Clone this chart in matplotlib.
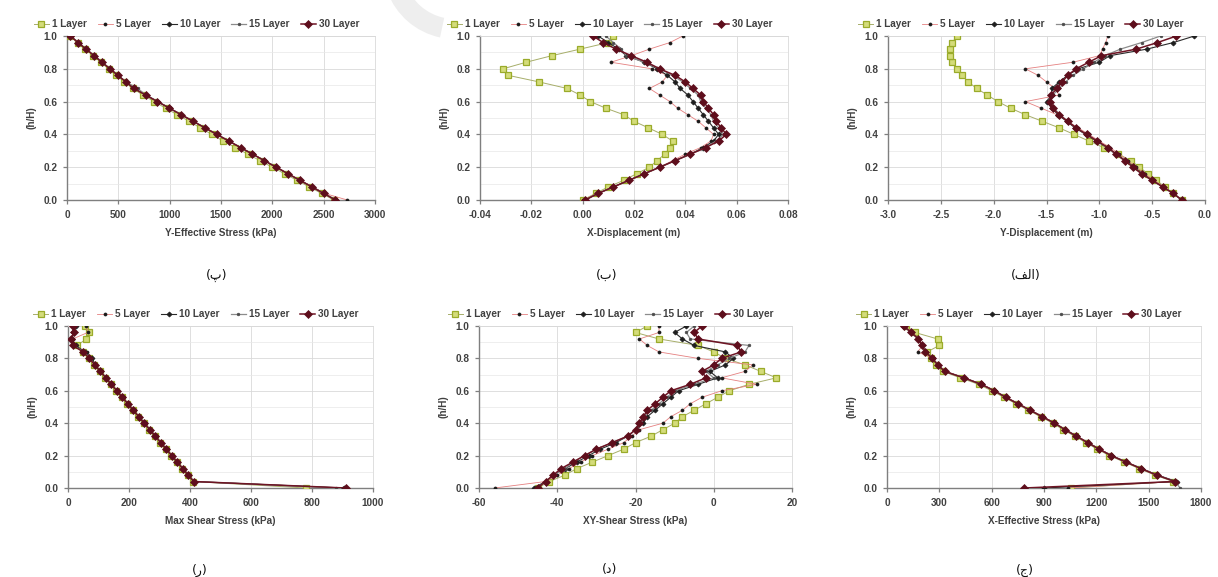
import matplotlib
matplotlib.use("Agg")
import matplotlib.pyplot as plt
from matplotlib.patches import Wedge
from matplotlib.transforms import IdentityTransform

# ---------------- data ----------------
h = [0.00, 0.04, 0.08, 0.12, 0.16, 0.20, 0.24, 0.28, 0.32, 0.36, 0.40, 0.44, 0.48,
     0.52, 0.56, 0.60, 0.64, 0.68, 0.72, 0.76, 0.80, 0.84, 0.88, 0.92, 0.96, 1.00]
layers = ["1 Layer", "5 Layer", "10 Layer", "15 Layer", "30 Layer"]

# (پ) Y-Effective Stress (kPa)
yeff_1 = [2600, 2480, 2360, 2240, 2120, 2000, 1880, 1760, 1640, 1520, 1410, 1300, 1190, 1075, 960, 850, 740, 640, 560, 480, 405, 330, 255, 180, 105, 30]
yeff_5 = [2730, 2510, 2395, 2275, 2155, 2040, 1920, 1805, 1688, 1572, 1455, 1340, 1225, 1110, 995, 880, 765, 660, 578, 500, 420, 345, 265, 190, 110, 40]
yeff_10 = [2620, 2505, 2390, 2270, 2150, 2040, 1925, 1810, 1690, 1575, 1460, 1345, 1230, 1115, 1000, 885, 770, 655, 575, 497, 420, 342, 265, 187, 110, 35]
yeff_15 = [2618, 2502, 2386, 2270, 2152, 2038, 1922, 1807, 1691, 1576, 1460, 1344, 1229, 1113, 998, 882, 768, 690, 574, 496, 419, 341, 264, 186, 109, 32]
yeff_30 = [2615, 2499, 2384, 2268, 2153, 2037, 1922, 1806, 1690, 1575, 1459, 1344, 1228, 1112, 997, 881, 766, 650, 573, 495, 418, 340, 263, 185, 108, 30]

# (ب) X-Displacement (m)
xd_1 = [0.000, 0.005, 0.010, 0.016, 0.021, 0.026, 0.029, 0.032, 0.034, 0.035, 0.031, 0.0256, 0.020, 0.016, 0.009, 0.003, -0.001, -0.006, -0.017, -0.029, -0.031, -0.022, -0.012, -0.001, 0.010, 0.012]
xd_5 = [0.000, 0.006, 0.012, 0.018, 0.024, 0.030, 0.035, 0.040, 0.046, 0.050, 0.051, 0.048, 0.045, 0.041, 0.037, 0.034, 0.030, 0.026, 0.031, 0.033, 0.027, 0.011, 0.019, 0.026, 0.034, 0.039]
xd_10 = [0.001, 0.006, 0.012, 0.018, 0.024, 0.030, 0.036, 0.042, 0.047, 0.051, 0.053, 0.051, 0.049, 0.047, 0.045, 0.043, 0.041, 0.038, 0.036, 0.033, 0.029, 0.024, 0.017, 0.014, 0.010, 0.006]
xd_15 = [0.001, 0.006, 0.012, 0.018, 0.024, 0.030, 0.036, 0.042, 0.048, 0.052, 0.055, 0.053, 0.051, 0.050, 0.048, 0.046, 0.045, 0.042, 0.039, 0.035, 0.030, 0.024, 0.017, 0.015, 0.012, 0.009]
xd_30 = [0.001, 0.006, 0.012, 0.018, 0.024, 0.030, 0.036, 0.042, 0.048, 0.053, 0.056, 0.054, 0.052, 0.051, 0.049, 0.047, 0.046, 0.043, 0.040, 0.036, 0.030, 0.025, 0.019, 0.013, 0.008, 0.004]

# (الف) Y-Displacement (m)
yd_1 = [-0.22, -0.30, -0.38, -0.46, -0.54, -0.62, -0.70, -0.82, -0.96, -1.10, -1.24, -1.38, -1.54, -1.70, -1.84, -1.96, -2.06, -2.16, -2.24, -2.30, -2.35, -2.39, -2.41, -2.41, -2.39, -2.35]
yd_5 = [-0.22, -0.30, -0.39, -0.48, -0.57, -0.65, -0.73, -0.81, -0.90, -1.00, -1.10, -1.20, -1.30, -1.40, -1.55, -1.70, -1.38, -1.42, -1.50, -1.58, -1.70, -1.25, -1.00, -0.97, -0.94, -0.92]
yd_10 = [-0.22, -0.30, -0.40, -0.50, -0.59, -0.67, -0.75, -0.84, -0.93, -1.03, -1.13, -1.23, -1.31, -1.39, -1.45, -1.50, -1.45, -1.45, -1.38, -1.30, -1.20, -1.00, -0.90, -0.55, -0.30, -0.10]
yd_15 = [-0.22, -0.30, -0.40, -0.50, -0.60, -0.68, -0.76, -0.85, -0.93, -1.02, -1.12, -1.22, -1.30, -1.37, -1.43, -1.46, -1.44, -1.38, -1.32, -1.25, -1.15, -1.05, -0.95, -0.80, -0.60, -0.42]
yd_30 = [-0.22, -0.30, -0.40, -0.50, -0.60, -0.68, -0.76, -0.84, -0.92, -1.02, -1.12, -1.22, -1.30, -1.38, -1.44, -1.47, -1.46, -1.40, -1.35, -1.30, -1.22, -1.10, -0.98, -0.65, -0.45, -0.27]

# (ر) Max Shear Stress (kPa)
ms_1 = [780, 410, 392, 374, 356, 338, 320, 302, 284, 266, 248, 230, 212, 194, 176, 158, 140, 122, 104, 86, 68, 48, 30, 60, 70, 55]
ms_5 = [900, 414, 396, 378, 360, 342, 324, 306, 288, 270, 252, 234, 216, 198, 180, 162, 144, 126, 108, 90, 72, 62, 20, 15, 65, 60]
ms_10 = [905, 413, 395, 377, 359, 341, 323, 305, 287, 269, 251, 233, 215, 197, 179, 161, 143, 125, 107, 89, 80, 55, 25, 12, 18, 25]
ms_15 = [880, 412, 394, 376, 358, 340, 322, 304, 286, 268, 250, 232, 214, 196, 178, 160, 142, 124, 106, 88, 72, 52, 18, 12, 22, 20]
ms_30 = [910, 412, 394, 376, 358, 340, 322, 304, 286, 268, 250, 232, 214, 196, 178, 160, 142, 124, 106, 88, 70, 50, 15, 10, 20, 15]

# (د) XY-Shear Stress (kPa)
xy_1 = [-45, -42, -38, -35, -31, -27, -23, -20, -16, -13, -10, -8, -5, -2, 1, 4, 9, 16, 12, 8, 3, 0, -4, -14, -20, -17]
xy_5 = [-56, -43, -40, -37, -34, -31, -27, -23, -21, -19, -13, -11, -8, -6, -3, 2, 11, 2, 8, 10, -4, -14, -17, -19, -14, -14]
xy_10 = [-46, -43, -41, -38, -35, -32, -29, -25, -22, -20, -18, -17, -15, -13, -11, -9, -4, 1, -1, 3, 5, 3, -5, -8, -10, -7]
xy_15 = [-45, -43, -41, -38, -36, -33, -30, -26, -22, -20, -19, -18, -16, -14, -12, -10, -5, 0, -2, 1, 4, 8, 9, -6, -7, -5]
xy_30 = [-45, -43, -41, -39, -36, -33, -30, -26, -22, -20, -19, -18, -17, -15, -13, -11, -6, -2, -3, 0, 2, 7, 6, -4, -5, -3]

# (ج) X-Effective Stress (kPa)
xe_1 = [1055, 1640, 1535, 1445, 1360, 1275, 1205, 1140, 1075, 1010, 950, 880, 810, 740, 670, 600, 525, 420, 320, 280, 250, 230, 300, 290, 160, 110]
xe_5 = [1040, 1655, 1550, 1460, 1375, 1290, 1220, 1155, 1090, 1025, 965, 895, 825, 755, 685, 620, 545, 445, 335, 295, 265, 175, 205, 185, 145, 100]
xe_10 = [902, 1660, 1550, 1460, 1372, 1288, 1218, 1152, 1088, 1022, 962, 892, 822, 752, 682, 617, 542, 442, 332, 292, 262, 222, 202, 178, 138, 92]
xe_15 = [1680, 1652, 1547, 1457, 1371, 1286, 1216, 1151, 1086, 1021, 961, 891, 821, 751, 681, 616, 541, 441, 331, 291, 261, 221, 201, 181, 141, 96]
xe_30 = [787, 1650, 1545, 1455, 1370, 1285, 1215, 1150, 1085, 1020, 960, 890, 820, 750, 680, 615, 540, 440, 330, 290, 260, 220, 200, 180, 140, 95]

# axis labels / ticks
xlabels = ["Y-Effective Stress (kPa)", "X-Displacement (m)", "Y-Displacement (m)",
           "Max Shear Stress (kPa)", "XY-Shear Stress (kPa)", "X-Effective Stress (kPa)"]
xticks_list = [[0, 500, 1000, 1500, 2000, 2500, 3000],
               [-0.04, -0.02, 0.00, 0.02, 0.04, 0.06, 0.08],
               [-3.0, -2.5, -2.0, -1.5, -1.0, -0.5, 0.0],
               [0, 200, 400, 600, 800, 1000],
               [-60, -40, -20, 0, 20],
               [0, 300, 600, 900, 1200, 1500, 1800]]
xtick_fmt = ["{:.0f}", "{:.2f}", "{:.1f}", "{:.0f}", "{:.0f}", "{:.0f}"]
yticks = [0.0, 0.2, 0.4, 0.6, 0.8, 1.0]
yticks_minor = [0.1, 0.3, 0.5, 0.7, 0.9]
# captions (Persian letters; الف written in visual order with presentation forms)
captions = ["(پ)", "(ب)", "(\uFED2\uFEDF\uFE8D)", "(ر)", "(د)", "(ج)"]

panels = [
    [yeff_1, yeff_5, yeff_10, yeff_15, yeff_30],
    [xd_1, xd_5, xd_10, xd_15, xd_30],
    [yd_1, yd_5, yd_10, yd_15, yd_30],
    [ms_1, ms_5, ms_10, ms_15, ms_30],
    [xy_1, xy_5, xy_10, xy_15, xy_30],
    [xe_1, xe_5, xe_10, xe_15, xe_30],
]

# ---------------- styles ----------------
styles = [
    dict(color="#A7AE6A", lw=0.7, marker="s", ms=4.2, mfc="#D4DC7A", mec="#9AAB2A", mew=0.9),
    dict(color="#E58080", lw=0.6, marker="o", ms=2.2, mfc="#1A1A1A", mec="#1A1A1A", mew=0.5),
    dict(color="#2A2A2A", lw=0.8, marker="D", ms=2.6, mfc="#1E1E1E", mec="#1E1E1E", mew=0.5),
    dict(color="#8C8C8C", lw=0.9, marker="o", ms=2.0, mfc="#4A4A4A", mec="#4A4A4A", mew=0.4),
    dict(color="#6E1424", lw=1.1, marker="D", ms=3.8, mfc="#5E0E1C", mec="#5E0E1C", mew=0.5),
]

W, H = 1218, 577
fig = plt.figure(figsize=(W / 100, H / 100), dpi=100)

# faint watermark shape at the top
fig.add_artist(Wedge((455, 610), 72, 200, 258, width=20, transform=IdentityTransform(),
                     facecolor="#EEEEEE", edgecolor="none", zorder=0))

# pixel boxes: (x_left, x_right, y_top, y_bottom)
boxes = [(67, 375, 36, 200), (480, 788, 36, 200), (888, 1205, 36, 200),
         (68, 373, 326, 488), (479, 792, 326, 488), (887, 1201, 326, 488)]
caption_pos = [(217, 275), (607, 275), (1026, 275), (200, 570), (610, 570), (1025, 570)]

txtc = "#404040"
tfont = dict(family="Liberation Sans", weight="bold", size=7.2, color=txtc)

for i, (x0, x1, yt, yb) in enumerate(boxes):
    ax = fig.add_axes([x0 / W, 1 - yb / H, (x1 - x0) / W, (yb - yt) / H])
    ax.patch.set_alpha(0)
    for j, series in enumerate(panels[i]):
        ax.plot(series, h, label=layers[j], zorder=3 + j, **styles[j])
    xt = xticks_list[i]
    ax.set_xlim(xt[0], xt[-1])
    ax.set_ylim(0, 1.0)
    ax.set_xticks(xt)
    ax.set_xticklabels([xtick_fmt[i].format(v) for v in xt], fontdict=tfont)
    ax.set_yticks(yticks)
    ax.set_yticks(yticks_minor, minor=True)
    ax.set_yticklabels(["{:.1f}".format(v) for v in yticks], fontdict=tfont)
    ax.tick_params(axis="both", which="major", direction="out", length=3, width=0.9,
                   color="#7F7F7F", pad=4)
    ax.tick_params(axis="y", which="minor", length=0)
    ax.grid(True, which="major", color="#D9D9D9", lw=0.6)
    ax.grid(True, which="minor", axis="y", color="#E8E8E8", lw=0.5)
    ax.set_axisbelow(True)
    for s in ("top", "right"):
        ax.spines[s].set_color("#D9D9D9")
        ax.spines[s].set_linewidth(0.6)
    for s in ("left", "bottom"):
        ax.spines[s].set_color("#7F7F7F")
        ax.spines[s].set_linewidth(1.0)
    ax.set_xlabel(xlabels[i], fontdict=tfont, labelpad=6)
    ax.set_ylabel("(h/H)", fontdict=tfont, labelpad=5)
    leg = ax.legend(loc="lower center", bbox_to_anchor=(0.42, 1.0), ncol=5, frameon=False,
                    prop=dict(family="Liberation Sans", weight="bold", size=7.2),
                    handlelength=1.5, handletextpad=0.3, columnspacing=1.1,
                    borderaxespad=0.3)
    for t in leg.get_texts():
        t.set_color(txtc)
    cx, cy = caption_pos[i]
    fig.text(cx / W, 1 - cy / H, captions[i], ha="center", va="center",
             fontsize=9, family="DejaVu Sans", color="#111111")

fig.savefig("out.png", dpi=100)
